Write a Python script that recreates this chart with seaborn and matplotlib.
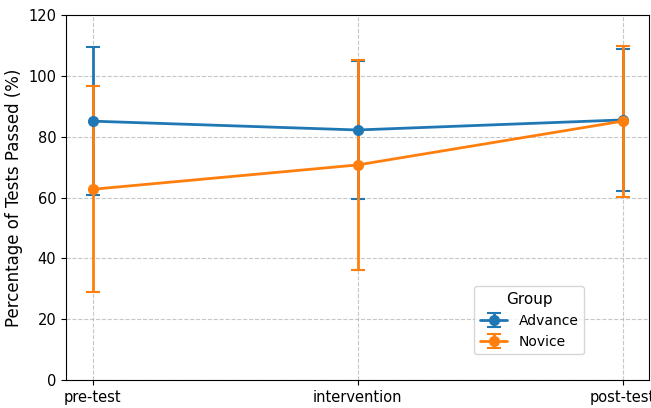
import numpy as np
import pandas as pd
import matplotlib
matplotlib.use("Agg")
import matplotlib.pyplot as plt
import seaborn as sns

phases = ["pre-test", "intervention", "post-test"]
groups = ["Advance", "Novice"]
advance_mean = [85.1, 82.2, 85.5]
advance_sd = [24.4, 22.7, 23.3]
novice_mean = [62.7, 70.7, 85.1]
novice_sd = [33.9, 34.5, 24.8]

df = pd.DataFrame({
    "phase": phases * 2,
    "group": ["Advance"] * 3 + ["Novice"] * 3,
    "mean": advance_mean + novice_mean,
    "sd": advance_sd + novice_sd,
})

sns.set_style("white", {"text.color": "black", "axes.labelcolor": "black",
                        "xtick.color": "black", "ytick.color": "black",
                        "axes.edgecolor": "black"})
palette = sns.color_palette("tab10", 2)

fig = plt.figure(figsize=(6.51, 4.08), dpi=100)
ax = fig.add_axes([66 / 651, 1 - 380 / 408, (649 - 66) / 651, (380 - 15) / 408])

for color, g in zip(palette, groups):
    sub = df[df["group"] == g]
    ax.errorbar(sub["phase"], sub["mean"], yerr=sub["sd"], fmt="-o", color=color,
                capsize=5, linewidth=2, markersize=7, elinewidth=2, capthick=1.5, label=g)

ax.set_xlim(-0.1, 2.1)
ax.set_ylim(0, 120)
ax.set_yticks(range(0, 121, 20))
ax.grid(True, linestyle="--", color="#b0b0b0", alpha=0.7, linewidth=0.8)
ax.set_xlabel("")
ax.set_ylabel("Percentage of Tests Passed (%)", fontsize=12)
ax.tick_params(axis="both", labelsize=10.5, length=3.5, direction="out", left=True, bottom=True)
for s in ax.spines.values():
    s.set_color("black")
    s.set_linewidth(0.8)

leg = ax.legend(title="Group", loc="lower left", bbox_to_anchor=(0.70, 0.07),
                borderaxespad=0, fontsize=10, title_fontsize=11, frameon=True)

fig.savefig("out.png", dpi=100)
